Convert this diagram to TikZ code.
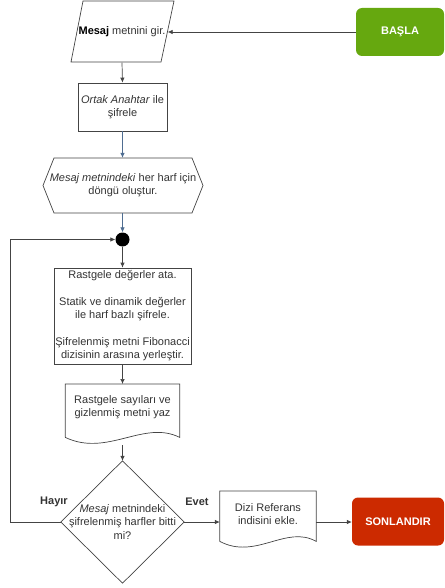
\documentclass[tikz,border=0pt]{standalone}
\usepackage{fontspec}
\setmainfont{Liberation Sans}
\usetikzlibrary{arrows.meta,calc}
\definecolor{txtc}{HTML}{333333}
\definecolor{linec}{HTML}{444444}
\definecolor{selc}{HTML}{4F6D91}
\definecolor{startg}{HTML}{66A80F}
\definecolor{endr}{HTML}{CC2A00}
\begin{document}
\begin{tikzpicture}[x=1pt,y=-1pt,
  every node/.style={font=\fontsize{11}{13.3}\selectfont, text=txtc, inner sep=0pt, align=center},
  shapeline/.style={draw=linec, line width=0.7pt, line join=miter},
  box/.style={shapeline, rectangle},
  hold/.style={draw=none, rectangle},
  term/.style={rectangle, rounded corners=6pt, draw=none, text=white, font=\fontsize{11}{13}\selectfont\bfseries},
  arr/.style={draw=linec, line width=0.7pt, -{Latex[length=5pt,width=4.5pt]}},
  selarr/.style={draw=selc, line width=0.7pt, -{Latex[length=5pt,width=4.5pt]}},
  lbl/.style={font=\fontsize{11}{13}\selectfont\bfseries}
]
\useasboundingbox (0,0) rectangle (444,588);

% start terminal
\node[term, fill=startg, minimum width=88pt, minimum height=48pt] (start) at (400,32) {BAŞLA};

% input parallelogram
\node[hold, minimum width=91pt, minimum height=61pt] (in) at (122,32) {\textbf{\color{black}Mesaj} metnini gir.};
\draw[shapeline] (83,1) -- (174,1) -- (161,62) -- (71,62) -- cycle;

% process: Ortak Anahtar
\node[box, minimum width=89pt, minimum height=48pt] (enc) at (122.5,107) {\textit{Ortak Anahtar} ile\\ şifrele};

% loop hexagon
\node[hold, minimum width=158pt, minimum height=55pt] (loop) at (123,185.5) {\textit{Mesaj metnindeki} her harf için\\ döngü oluştur.};
\draw[shapeline] (54,158) -- (192,158) -- (203,185.5) -- (192,213) -- (54,213) -- (43,185.5) -- cycle;

% junction dot
\node[circle, fill=black, minimum size=14pt] (dot) at (122.5,239.5) {};

% main process
\node[box, minimum width=137pt, minimum height=96pt] (proc) at (122.5,316) {Rastgele değerler ata.\\[13.3pt] Statik ve dinamik değerler\\ ile harf bazlı şifrele.\\[13.3pt] Şifrelenmiş metni Fibonacci\\ dizisinin arasına yerleştir.};

% document 1
\node[hold, minimum width=114pt, minimum height=53pt, anchor=north] (doc1) at (122.5,384) {};
\draw[shapeline] (doc1.south west) -- (doc1.north west) -- (doc1.north east) -- (doc1.south east)
  .. controls ($(doc1.south east)+(-36,-18)$) and ($(doc1.south west)+(42,20)$) .. (doc1.south west);
\node (doc1t) at ($(doc1.center)+(0,-3.5)$) {Rastgele sayıları ve\\ gizlenmiş metni yaz};

% decision diamond
\node[hold, minimum width=123pt, minimum height=122pt] (dec) at (122.5,522) {\textit{Mesaj} metnindeki\\ şifrelenmiş harfler bitti\\ mi?};
\draw[shapeline] (dec.north) -- (dec.east) -- (dec.south) -- (dec.west) -- cycle;

% document 2
\node[hold, minimum width=96pt, minimum height=50pt, anchor=north] (doc2) at (268,491) {};
\draw[shapeline] (doc2.south west) -- (doc2.north west) -- (doc2.north east) -- (doc2.south east)
  .. controls ($(doc2.south east)+(-30,-17)$) and ($(doc2.south west)+(36,19)$) .. (doc2.south west);
\node (doc2t) at ($(doc2.center)+(0,-2)$) {Dizi Referans\\ indisini ekle.};

% end terminal
\node[term, fill=endr, minimum width=92pt, minimum height=48pt] (end) at (398,521.5) {SONLANDIR};

% connectors
\draw[arr] (start.west) -- (in.east);
\draw[arr] (in.south) -- (enc.north);
\draw[selarr] (enc.south) -- (loop.north -| enc.south);
\draw[selarr] (loop.south -| dot.north) -- (dot.north);
\draw[arr] (dot.south) -- (proc.north);
\draw[arr] (proc.south) -- (doc1.north);
\draw[arr] ($(doc1.south)+(0,8)$) -- (dec.north);
\draw[arr] (dec.east) -- (dec.east -| doc2.west);
\draw[arr] (dec.east -| doc2.east) -- (dec.east -| end.west);
\draw[arr] (dec.west) -- (10,522) |- (dot.west);

% labels
\node[lbl] (no) at (54,502) {Hayır};
\node[lbl] (yes) at (197,502) {Evet};
\end{tikzpicture}
\end{document}
